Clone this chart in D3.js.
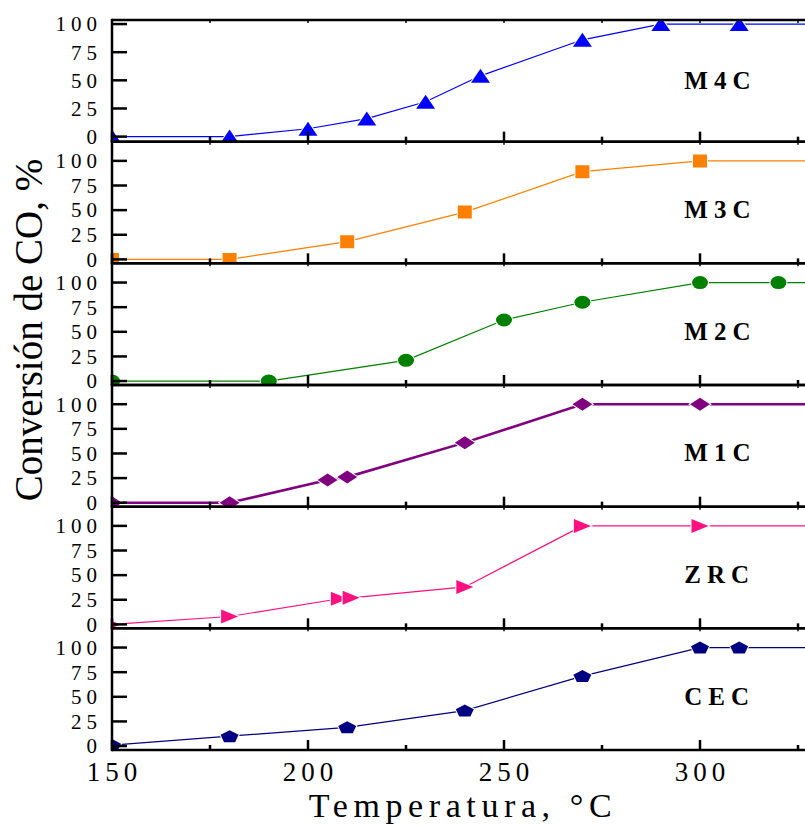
<!DOCTYPE html>
<html>
<head>
<meta charset="utf-8">
<script src="https://cdn.jsdelivr.net/npm/d3@7"></script>
<style>
  body { margin: 0; background: #fff; }
  text { font-family: "Liberation Serif", "Times New Roman", serif; fill: #000; }
</style>
</head>
<body>
<div id="chart"></div>
<script>
const width = 805
const height = 826

// panel names, top to bottom
const panels = ["M4C", "M3C", "M2C", "M1C", "ZRC", "CEC"]

// temperatures (°C) and CO conversion (%)
const m4cT = [150, 180, 200, 215, 230, 244, 270, 290, 310, 350]
const m4cV = [0, 0, 7, 16, 31, 54, 86, 100, 100, 100]
const m3cT = [150, 180, 210, 240, 270, 300, 350]
const m3cV = [0, 0, 18, 48, 89, 100, 100]
const m2cT = [150, 190, 225, 250, 270, 300, 320, 350]
const m2cV = [0, 0, 21, 62, 80, 100, 100, 100]
const m1cT = [150, 180, 205, 210, 240, 270, 300, 350]
const m1cV = [0, 0, 23, 26, 61, 100, 100, 100]
const zrcT = [150, 180, 208, 211, 240, 270, 300, 350]
const zrcV = [0, 8, 26, 27, 38, 100, 100, 100]
const cecT = [150, 180, 210, 240, 270, 300, 310, 350]
const cecV = [1, 10, 19, 36, 71, 100, 100, 100]

const yTicks = [0, 25, 50, 75, 100]
const xMajor = [150, 200, 250, 300]
const xMinor = [175, 225, 275, 325]

const series = [
  { t: m4cT, v: m4cV, color: "#0000ff", lw: 1.2, shape: "triUp" },
  { t: m3cT, v: m3cV, color: "#ff8000", lw: 1.2, shape: "square" },
  { t: m2cT, v: m2cV, color: "#008000", lw: 1.2, shape: "circle" },
  { t: m1cT, v: m1cV, color: "#800080", lw: 2.6, shape: "diamond" },
  { t: zrcT, v: zrcV, color: "#ff1080", lw: 1.2, shape: "triRight" },
  { t: cecT, v: cecV, color: "#000080", lw: 1.2, shape: "pentagon" }
]

const plotLeft = 112
const plotTop = 20
const plotBottom = 750
const panelH = (plotBottom - plotTop) / panels.length

const x = d3.scaleLinear().domain([150, 350]).range([plotLeft, plotLeft + 200 * 3.92])

// marker outlines, w x h box centred on the point
function markerPath(shape, w, h) {
  if (shape === "circle") {
    const rx = w / 2, ry = h / 2
    return `M${-rx},0A${rx},${ry} 0 1,0 ${rx},0A${rx},${ry} 0 1,0 ${-rx},0Z`
  }
  const p = d3.path()
  if (shape === "triUp") {
    p.moveTo(0, -h / 2); p.lineTo(w / 2, h / 2); p.lineTo(-w / 2, h / 2); p.closePath()
  } else if (shape === "square") {
    p.rect(-w / 2, -h / 2, w, h)
  } else if (shape === "diamond") {
    p.moveTo(0, -h / 2); p.lineTo(w / 2, 0); p.lineTo(0, h / 2); p.lineTo(-w / 2, 0); p.closePath()
  } else if (shape === "triRight") {
    p.moveTo(w / 2, 0); p.lineTo(-w / 2, h / 2); p.lineTo(-w / 2, -h / 2); p.closePath()
  } else if (shape === "pentagon") {
    const sx = (w / 2) / Math.cos(Math.PI / 10)
    const sy = h / (1 + Math.cos(Math.PI / 5))
    const dy = sy * (1 - Math.cos(Math.PI / 5)) / 2
    for (let k = 0; k < 5; k++) {
      const a = -Math.PI / 2 + k * 2 * Math.PI / 5
      const px = Math.cos(a) * sx, py = Math.sin(a) * sy + dy
      if (k === 0) p.moveTo(px, py); else p.lineTo(px, py)
    }
    p.closePath()
  }
  return p.toString()
}

const markerSize = {
  triUp: [19, 14], square: [14, 13], circle: [16, 13],
  diamond: [20, 13], triRight: [17, 14], pentagon: [18, 12]
}

let svg = d3.select("#chart")
  .append("svg")
  .attr("width", width)
  .attr("height", height)

svg.append("rect").attr("width", width).attr("height", height).attr("fill", "#fff")

panels.forEach((name, i) => {
  const y0 = plotTop + i * panelH
  const y1 = y0 + panelH
  const dom = i === 0 ? [-4.5, 103.6] : [-4, 119.5]
  const y = d3.scaleLinear().domain(dom).range([y1, y0])
  const s = series[i]

  const g = svg.append("g")

  svg.append("clipPath").attr("id", "clip" + i)
    .append("rect")
    .attr("x", plotLeft).attr("y", y0)
    .attr("width", width - plotLeft).attr("height", panelH)

  const plot = g.append("g").attr("clip-path", "url(#clip" + i + ")")

  const pts = s.t.map((t, j) => [t, s.v[j]])
  const line = d3.line().x(d => x(d[0])).y(d => y(d[1]))

  plot.append("path")
    .attr("d", line(pts))
    .attr("fill", "none")
    .attr("stroke", s.color)
    .attr("stroke-width", s.lw)

  const [mw, mh] = markerSize[s.shape]
  plot.selectAll(".mk")
    .data(pts)
    .enter().append("path")
    .attr("class", "mk")
    .attr("transform", d => "translate(" + x(d[0]) + "," + y(d[1]) + ")")
    .attr("d", markerPath(s.shape, mw, mh))
    .attr("fill", s.color)
    .attr("stroke", "#fff")
    .attr("stroke-width", 2)
    .attr("paint-order", "stroke")

  // panel label
  g.append("text")
    .attr("x", x(296))
    .attr("y", y(42))
    .style("font-size", "25px")
    .style("font-weight", "bold")
    .style("letter-spacing", "6px")
    .text(name)

  // y ticks and labels
  g.selectAll(".yt")
    .data(yTicks)
    .enter().append("line")
    .attr("x1", plotLeft).attr("x2", plotLeft + 15)
    .attr("y1", d => y(d)).attr("y2", d => y(d))
    .attr("stroke", "#000").attr("stroke-width", 2.5)

  g.selectAll(".yl")
    .data(yTicks)
    .enter().append("text")
    .attr("x", 102)
    .attr("y", d => y(d))
    .attr("dy", "0.35em")
    .attr("text-anchor", "end")
    .style("font-size", "21px")
    .style("letter-spacing", "5px")
    .text(d => d)

  // x ticks, pointing up from the bottom edge
  g.selectAll(".xM")
    .data(xMajor)
    .enter().append("line")
    .attr("x1", d => x(d)).attr("x2", d => x(d))
    .attr("y1", y1).attr("y2", y1 - 10)
    .attr("stroke", "#000").attr("stroke-width", 2.5)

  g.selectAll(".xm")
    .data(xMinor)
    .enter().append("line")
    .attr("x1", d => x(d)).attr("x2", d => x(d))
    .attr("y1", y1).attr("y2", y1 - 5)
    .attr("stroke", "#000").attr("stroke-width", 2.5)

  // tiny ticks on the top edge
  g.selectAll(".xt")
    .data(xMajor.concat(xMinor))
    .enter().append("line")
    .attr("x1", d => x(d)).attr("x2", d => x(d))
    .attr("y1", y0).attr("y2", y0 + 3)
    .attr("stroke", "#000").attr("stroke-width", 1.5)

  // frame: top, bottom, left
  g.append("line").attr("x1", plotLeft).attr("x2", width).attr("y1", y0).attr("y2", y0)
    .attr("stroke", "#000").attr("stroke-width", 2.5)
  g.append("line").attr("x1", plotLeft).attr("x2", width).attr("y1", y1).attr("y2", y1)
    .attr("stroke", "#000").attr("stroke-width", 2.5)
  g.append("line").attr("x1", plotLeft).attr("x2", plotLeft).attr("y1", y0 - 1.25).attr("y2", y1 + 1.25)
    .attr("stroke", "#000").attr("stroke-width", 2.5)
})

// x tick labels
svg.selectAll(".xl")
  .data(xMajor)
  .enter().append("text")
  .attr("x", d => x(d) + 2.5)
  .attr("y", 781)
  .attr("text-anchor", "middle")
  .style("font-size", "27px")
  .style("letter-spacing", "5px")
  .text(d => d)

// axis titles
svg.append("text")
  .attr("x", 463)
  .attr("y", 817)
  .attr("text-anchor", "middle")
  .style("font-size", "34px")
  .style("letter-spacing", "5.6px")
  .text("Temperatura, °C")

svg.append("text")
  .attr("transform", "translate(42,330) rotate(-90)")
  .attr("text-anchor", "middle")
  .style("font-size", "39px")
  .text("Conversión de CO, %")
</script>
</body>
</html>
